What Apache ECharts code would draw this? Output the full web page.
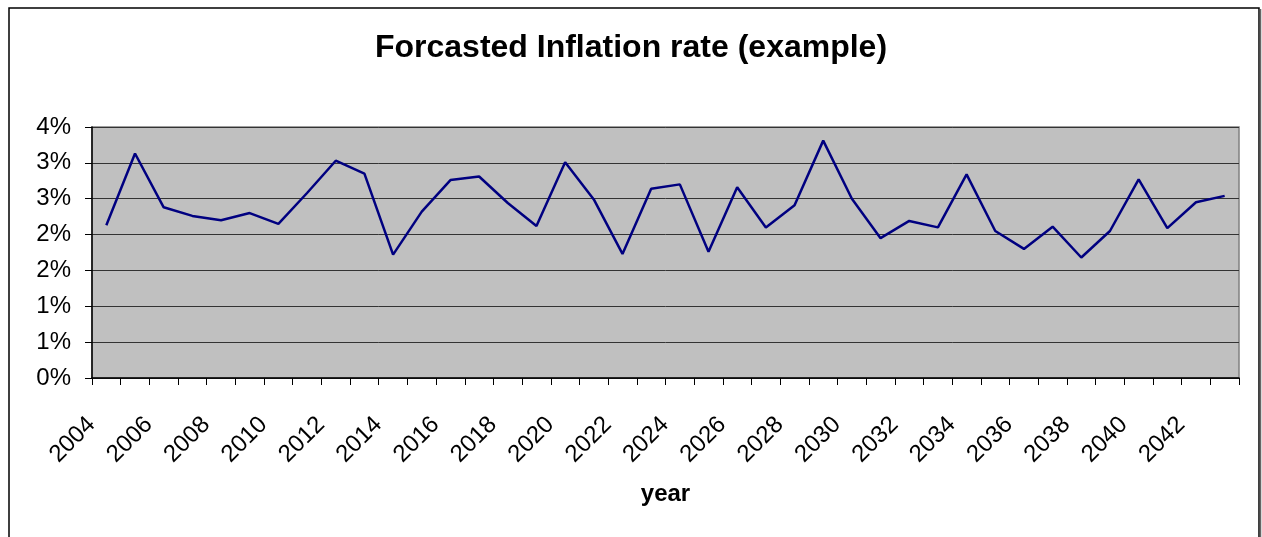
<!DOCTYPE html>
<html>
<head>
<meta charset="utf-8">
<script src="https://cdn.jsdelivr.net/npm/echarts@6/dist/echarts.min.js"></script>
<style>
html,body{margin:0;padding:0;background:#fff;}
#chart{width:1262px;height:537px;}
</style>
</head>
<body>
<div id="chart"></div>
<script>
// Data (inflation rate in %)
const years = [];
for (let y = 2004; y <= 2043; y++) years.push(String(y));
const inflation = [
  2.13, 3.13, 2.38, 2.26, 2.20, 2.30, 2.15, 2.58, 3.03, 2.85,
  1.72, 2.32, 2.76, 2.81, 2.44, 2.12, 3.01, 2.49, 1.73, 2.64,
  2.70, 1.76, 2.66, 2.10, 2.41, 3.31, 2.50, 1.95, 2.19, 2.10,
  2.84, 2.05, 1.80, 2.11, 1.68, 2.05, 2.77, 2.09, 2.45, 2.54
];
const yTicks = { min: 0, max: 3.5, interval: 0.5 };
const titleText = 'Forcasted Inflation rate (example)';
const xName = 'year';

const FONT = '"Liberation Sans", Arial, sans-serif';
const chart = echarts.init(document.getElementById('chart'), null, {renderer: 'canvas'});
chart.setOption({
  animation: false,
  backgroundColor: '#ffffff',
  title: {
    text: titleText,
    left: 'center',
    top: 27,
    textStyle: { fontFamily: FONT, fontSize: 32, fontWeight: 'bold', color: '#000' }
  },
  graphic: [{
    type: 'rect',
    shape: { x: 9, y: 8, width: 1250, height: 600 },
    style: { fill: 'none', stroke: '#000', lineWidth: 1.5 },
    silent: true
  }, {
    type: 'line',
    shape: { x1: 1260.5, y1: 9, x2: 1260.5, y2: 537 },
    style: { stroke: '#666', lineWidth: 1.5 },
    silent: true
  }],
  grid: {
    left: 92, top: 127, width: 1147, height: 251,
    show: true, backgroundColor: '#C0C0C0', borderColor: '#808080', borderWidth: 1.5
  },
  xAxis: {
    type: 'category',
    data: years,
    boundaryGap: true,
    name: xName,
    nameLocation: 'middle',
    nameGap: 104,
    nameTextStyle: { fontFamily: FONT, fontSize: 24, fontWeight: 'bold', color: '#000' },
    axisLine: { lineStyle: { color: '#000', width: 1.5 } },
    axisTick: { show: true, interval: 0, length: 7, lineStyle: { color: '#000', width: 1 } },
    axisLabel: {
      interval: 1, rotate: 45, margin: 28, padding: [0, 21, 0, 0],
      fontFamily: FONT, fontSize: 24, color: '#000'
    },
    splitLine: { show: false }
  },
  yAxis: {
    type: 'value',
    min: yTicks.min, max: yTicks.max, interval: yTicks.interval,
    axisLine: { show: true, lineStyle: { color: '#000', width: 1.5 } },
    axisTick: { show: true, length: 7, lineStyle: { color: '#000' } },
    axisLabel: {
      margin: 21, fontFamily: FONT, fontSize: 24, color: '#000',
      formatter: v => Math.round(v) + '%'
    },
    splitLine: { show: true, lineStyle: { color: '#333', width: 1 } }
  },
  series: [{
    type: 'line',
    data: inflation,
    symbol: 'none',
    lineStyle: { color: '#000080', width: 2.5 },
    itemStyle: { color: '#000080' }
  }]
});
</script>
</body>
</html>
